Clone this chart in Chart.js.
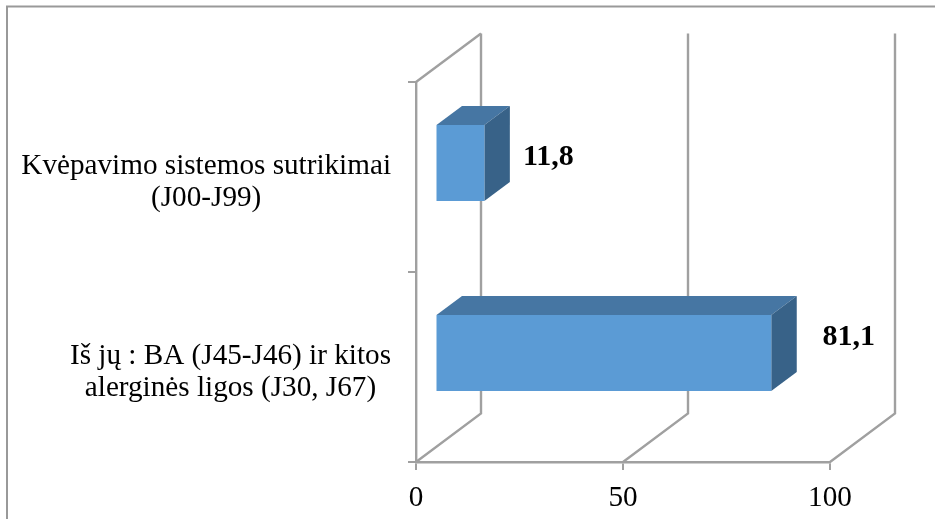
<!DOCTYPE html>
<html>
<head>
<meta charset="utf-8">
<style>
    html, body { margin: 0; padding: 0; background: #fff; }
    canvas { display: block; }
</style>
<script src="https://cdn.jsdelivr.net/npm/chart.js@4"></script>
</head>
<body>
<canvas id="chart" width="935" height="519"></canvas>
<script>
const categories = [
    ['Kvėpavimo sistemos sutrikimai', '(J00-J99)'],
    ['Iš jų : BA (J45-J46) ir kitos', 'alerginės ligos (J30, J67)']
];
const values = [11.8, 81.1];
const valueLabels = ['11,8', '81,1'];
const xTicks = [0, 50, 100];

const FONT = '"Liberation Serif", "Times New Roman", serif';
const LINE = '#a0a0a0';
const FRONT = '#5b9bd5';
const TOP = '#4676a3';
const SIDE = '#386288';

// depth of the fake 3D box, and of the bars inside it
const WALL_DX = 65, WALL_DY = -48.5;
const BAR_DX = 25.5, BAR_DY = -19;
const SHIFT_X = 19.5, SHIFT_Y = -14;
// where each value label sits relative to the end of its bar on the axis
const labelNudge = [[83.5, -20], [97, -30]];

const box3d = {
    id: 'box3d',
    beforeDraw(chart) {
        const { ctx, width } = chart;
        // outer frame, only top and left are visible
        ctx.save();
        ctx.strokeStyle = '#999999';
        ctx.lineWidth = 2;
        ctx.beginPath();
        ctx.moveTo(7, chart.height);
        ctx.lineTo(7, 6.5);
        ctx.lineTo(width, 6.5);
        ctx.stroke();
        ctx.restore();
    },
    beforeDatasetsDraw(chart) {
        const { ctx, scales: { x, y } } = chart;
        const bottom = y.bottom, top = y.top;

        ctx.save();
        ctx.strokeStyle = LINE;
        ctx.lineWidth = 2.4;
        xTicks.forEach(v => {
            const px = x.getPixelForValue(v);
            ctx.beginPath();
            ctx.moveTo(px, bottom);
            ctx.lineTo(px + WALL_DX, bottom + WALL_DY);
            ctx.lineTo(px + WALL_DX, top + WALL_DY);
            ctx.stroke();
        });
        ctx.beginPath();
        ctx.moveTo(x.left, top);
        ctx.lineTo(x.left + WALL_DX, top + WALL_DY);
        ctx.stroke();

        // top and side faces of the bars
        chart.getDatasetMeta(0).data.forEach(bar => {
            const left = bar.base + SHIFT_X;
            const right = bar.x + SHIFT_X;
            const t = bar.y - bar.height / 2 + SHIFT_Y;
            const b = bar.y + bar.height / 2 + SHIFT_Y;
            ctx.fillStyle = TOP;
            ctx.beginPath();
            ctx.moveTo(left, t);
            ctx.lineTo(left + BAR_DX, t + BAR_DY);
            ctx.lineTo(right + BAR_DX, t + BAR_DY);
            ctx.lineTo(right, t);
            ctx.closePath();
            ctx.fill();
            ctx.fillStyle = SIDE;
            ctx.beginPath();
            ctx.moveTo(right, t);
            ctx.lineTo(right + BAR_DX, t + BAR_DY);
            ctx.lineTo(right + BAR_DX, b + BAR_DY);
            ctx.lineTo(right, b);
            ctx.closePath();
            ctx.fill();
        });
        ctx.restore();

        // front faces are the real bars, moved into the box
        ctx.save();
        ctx.translate(SHIFT_X, SHIFT_Y);
    },
    afterDatasetsDraw(chart) {
        const { ctx, scales: { x, y } } = chart;
        ctx.restore();

        ctx.save();
        ctx.fillStyle = '#000';
        ctx.textBaseline = 'middle';

        // value labels
        ctx.font = `bold 30px ${FONT}`;
        ctx.textAlign = 'center';
        values.forEach((v, i) => {
            const [nx, ny] = labelNudge[i];
            ctx.fillText(valueLabels[i], x.getPixelForValue(v) + nx, y.getPixelForValue(i) + ny);
        });

        // category labels, lines centred on each other and block right aligned
        ctx.font = `29.2px ${FONT}`;
        categories.forEach((lines, i) => {
            const widest = Math.max(...lines.map(l => ctx.measureText(l).width));
            const cx = x.left - 25 - widest / 2;
            const cy = y.getPixelForValue(i) + 5;
            lines.forEach((l, n) => {
                ctx.fillText(l, cx, cy + (n - (lines.length - 1) / 2) * 32);
            });
        });
        ctx.restore();
    }
};

new Chart(document.getElementById('chart'), {
    type: 'bar',
    plugins: [box3d],
    data: {
        labels: categories,
        datasets: [{
            data: values,
            backgroundColor: FRONT,
            borderWidth: 0,
            barPercentage: 0.4,
            categoryPercentage: 1
        }]
    },
    options: {
        indexAxis: 'y',
        responsive: false,
        animation: false,
        events: [],
        layout: { padding: { top: 82, right: 105, left: 0, bottom: 0 } },
        plugins: {
            legend: { display: false },
            tooltip: { enabled: false },
            title: { display: false }
        },
        scales: {
            x: {
                min: 0,
                max: 100,
                afterFit: scale => { scale.height = 57; },
                afterBuildTicks: scale => { scale.ticks = xTicks.map(value => ({ value })); },
                grid: { drawOnChartArea: false, color: LINE, lineWidth: 2, tickLength: 8 },
                border: { color: LINE, width: 2.4 },
                ticks: {
                    color: '#000',
                    padding: 11,
                    maxRotation: 0,
                    font: { family: FONT, size: 29.2 }
                }
            },
            y: {
                afterFit: scale => { scale.width = 416; },
                grid: { drawOnChartArea: false, color: LINE, lineWidth: 2, tickLength: 8 },
                border: { color: LINE, width: 2.4 },
                ticks: { display: false }
            }
        }
    }
});
</script>
</body>
</html>
